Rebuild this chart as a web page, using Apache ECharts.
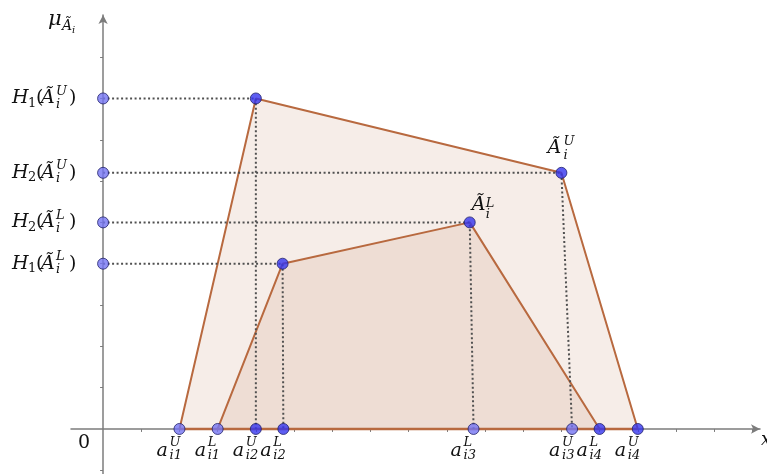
<!DOCTYPE html>
<html>
<head>
<meta charset="utf-8">
<script src="https://cdn.jsdelivr.net/npm/echarts@6/dist/echarts.min.js"></script>
<style>
html, body { margin: 0; background: #fff; }
#chart { width: 767px; height: 474px; }
</style>
</head>
<body>
<div id="chart"></div>
<script>
// upper (U) and lower (L) trapezoids: corner x and membership
var upperX = [2, 4, 12, 14];
var upperY = [0, 8, 6.2, 0];
var lowerX = [3, 4.7, 9.6, 13];
var lowerY = [0, 4, 5, 0];

// dotted guides: vertex -> y axis, vertex -> foot on x axis
var guideX = [4, 12, 9.6, 4.7];
var guideY = [8, 6.2, 5, 4];
var guideFoot = [4, 12.28, 9.7, 4.72];
var heightIdx = ['1', '2', '2', '1'];
var heightSup = ['U', 'U', 'L', 'L'];

// points on the x axis
var footVals = [2, 3, 4, 4.72, 9.7, 12.28, 13, 14];
var footSup = ['U', 'L', 'U', 'L', 'L', 'U', 'L', 'U'];
var footSub = ['i1', 'i1', 'i2', 'i2', 'i3', 'i3', 'i4', 'i4'];
var footLight = [true, true, false, false, true, true, false, false];

var xTicks = [1, 2, 3, 4, 5, 6, 7, 8, 9, 10, 11, 12, 13, 14, 15, 16, 17];
var yTicks = [-1, 1, 2, 3, 4, 5, 6, 7, 8, 9];

var brown = '#b8693f';
var light = '#7474f2';
var dark = '#3535ef';
var serif = '"DejaVu Serif", "Liberation Serif", serif';

function zip(xs, ys) {
    return xs.map(function (x, i) { return [x, ys[i]]; });
}

var pointStyle = function (c) {
    return { color: c, borderColor: '#20206a', borderWidth: 1 };
};

var guideSeries = guideX.map(function (x, i) {
    return {
        type: 'line',
        data: [[0, guideY[i]], [x, guideY[i]], [guideFoot[i], 0]],
        symbol: 'none',
        lineStyle: { color: '#505050', width: 2, type: [2, 2.5] },
        z: 3,
        silent: true
    };
});

var pts = [];
guideY.forEach(function (y) { pts.push({ value: [0, y], itemStyle: pointStyle(light) }); });
guideX.forEach(function (x, i) { pts.push({ value: [x, guideY[i]], itemStyle: pointStyle(dark) }); });
footVals.forEach(function (x, i) {
    pts.push({ value: [x, 0], itemStyle: pointStyle(footLight[i] ? light : dark) });
});

var option = {
    animation: false,
    grid: { left: 71, right: 7, top: 15, bottom: 0 },
    xAxis: {
        type: 'value', min: -0.84, max: 17.2,
        axisLine: { onZero: true, symbol: ['none', 'arrow'], symbolSize: [7, 9],
            lineStyle: { color: '#7c7c7c', width: 1.5 } },
        axisTick: { show: true, length: 3, customValues: xTicks, lineStyle: { color: '#7c7c7c' } },
        axisLabel: { show: false },
        splitLine: { show: false }
    },
    yAxis: {
        type: 'value', min: -1.09, max: 10.02,
        axisLine: { onZero: true, symbol: ['none', 'arrow'], symbolSize: [7, 9],
            lineStyle: { color: '#7c7c7c', width: 1.5 } },
        axisTick: { show: true, length: 3, customValues: yTicks, lineStyle: { color: '#7c7c7c' } },
        axisLabel: { show: false },
        splitLine: { show: false }
    },
    series: [
        {
            type: 'line', data: zip(upperX, upperY), symbol: 'none', z: 1,
            lineStyle: { color: brown, width: 2 },
            areaStyle: { color: brown, opacity: 0.12 }
        },
        {
            type: 'line', data: zip(lowerX, lowerY), symbol: 'none', z: 1,
            lineStyle: { color: brown, width: 2 },
            areaStyle: { color: brown, opacity: 0.12 }
        },
        {
            type: 'line', data: [[upperX[0], 0], [upperX[3], 0]], symbol: 'none', z: 2,
            lineStyle: { color: brown, width: 2.5 }
        }
    ].concat(guideSeries, [{
        type: 'scatter', data: pts, symbolSize: 11, z: 5, silent: true
    }])
};

var chart = echarts.init(document.getElementById('chart'));
chart.setOption(option);

// math-style labels built from pieces placed next to data points
function piece(p, d) {
    return {
        type: 'text', x: p[0] + d.dx, y: p[1] + d.dy, z: 10, silent: true,
        style: {
            text: d.t, fill: '#111',
            font: (d.it ? 'italic ' : '') + d.s + 'px ' + serif,
            align: 'left', verticalAlign: 'middle',
            textAlign: 'left', textVerticalAlign: 'middle'
        }
    };
}

var els = [];
function addLabel(dataPt, parts) {
    var p = chart.convertToPixel({ gridIndex: 0 }, dataPt);
    parts.forEach(function (d) { els.push(piece(p, d)); });
}

guideY.forEach(function (y, i) {
    addLabel([0, y], [
        { t: 'H', dx: -91, dy: 0, s: 19, it: true },
        { t: heightIdx[i], dx: -75, dy: 5, s: 13 },
        { t: '(', dx: -67, dy: 0, s: 19 },
        { t: '\u00C3', dx: -62, dy: 0, s: 19, it: true },
        { t: heightSup[i], dx: -47, dy: -7, s: 13, it: true },
        { t: 'i', dx: -47, dy: 6, s: 13, it: true },
        { t: ')', dx: -34, dy: 0, s: 19 }
    ]);
});

footVals.forEach(function (x, i) {
    addLabel([x, 0], [
        { t: 'a', dx: -23, dy: 22, s: 19, it: true },
        { t: footSup[i], dx: -10, dy: 14, s: 13, it: true },
        { t: footSub[i], dx: -10, dy: 27, s: 13, it: true }
    ]);
});

addLabel([guideX[1], guideY[1]], [
    { t: '\u00C3', dx: -14, dy: -25, s: 19, it: true },
    { t: 'U', dx: 2, dy: -31, s: 13, it: true },
    { t: 'i', dx: 2, dy: -17, s: 13, it: true }
]);
addLabel([guideX[2], guideY[2]], [
    { t: '\u00C3', dx: 2, dy: -17, s: 19, it: true },
    { t: 'L', dx: 16, dy: -19, s: 13, it: true },
    { t: 'i', dx: 16, dy: -8, s: 13, it: true }
]);

addLabel([0, 10.02], [
    { t: '\u03BC', dx: -55, dy: 5, s: 21, it: true },
    { t: '\u00C3', dx: -41, dy: 11, s: 14, it: true },
    { t: 'i', dx: -31, dy: 15, s: 10, it: true }
]);
addLabel([0, 0], [{ t: '0', dx: -25, dy: 14, s: 19 }]);
addLabel([17.2, 0], [{ t: 'x', dx: 1, dy: 11, s: 18, it: true }]);

chart.setOption({ graphic: { elements: els } });

window.onresize = chart.resize;
</script>
</body>
</html>
